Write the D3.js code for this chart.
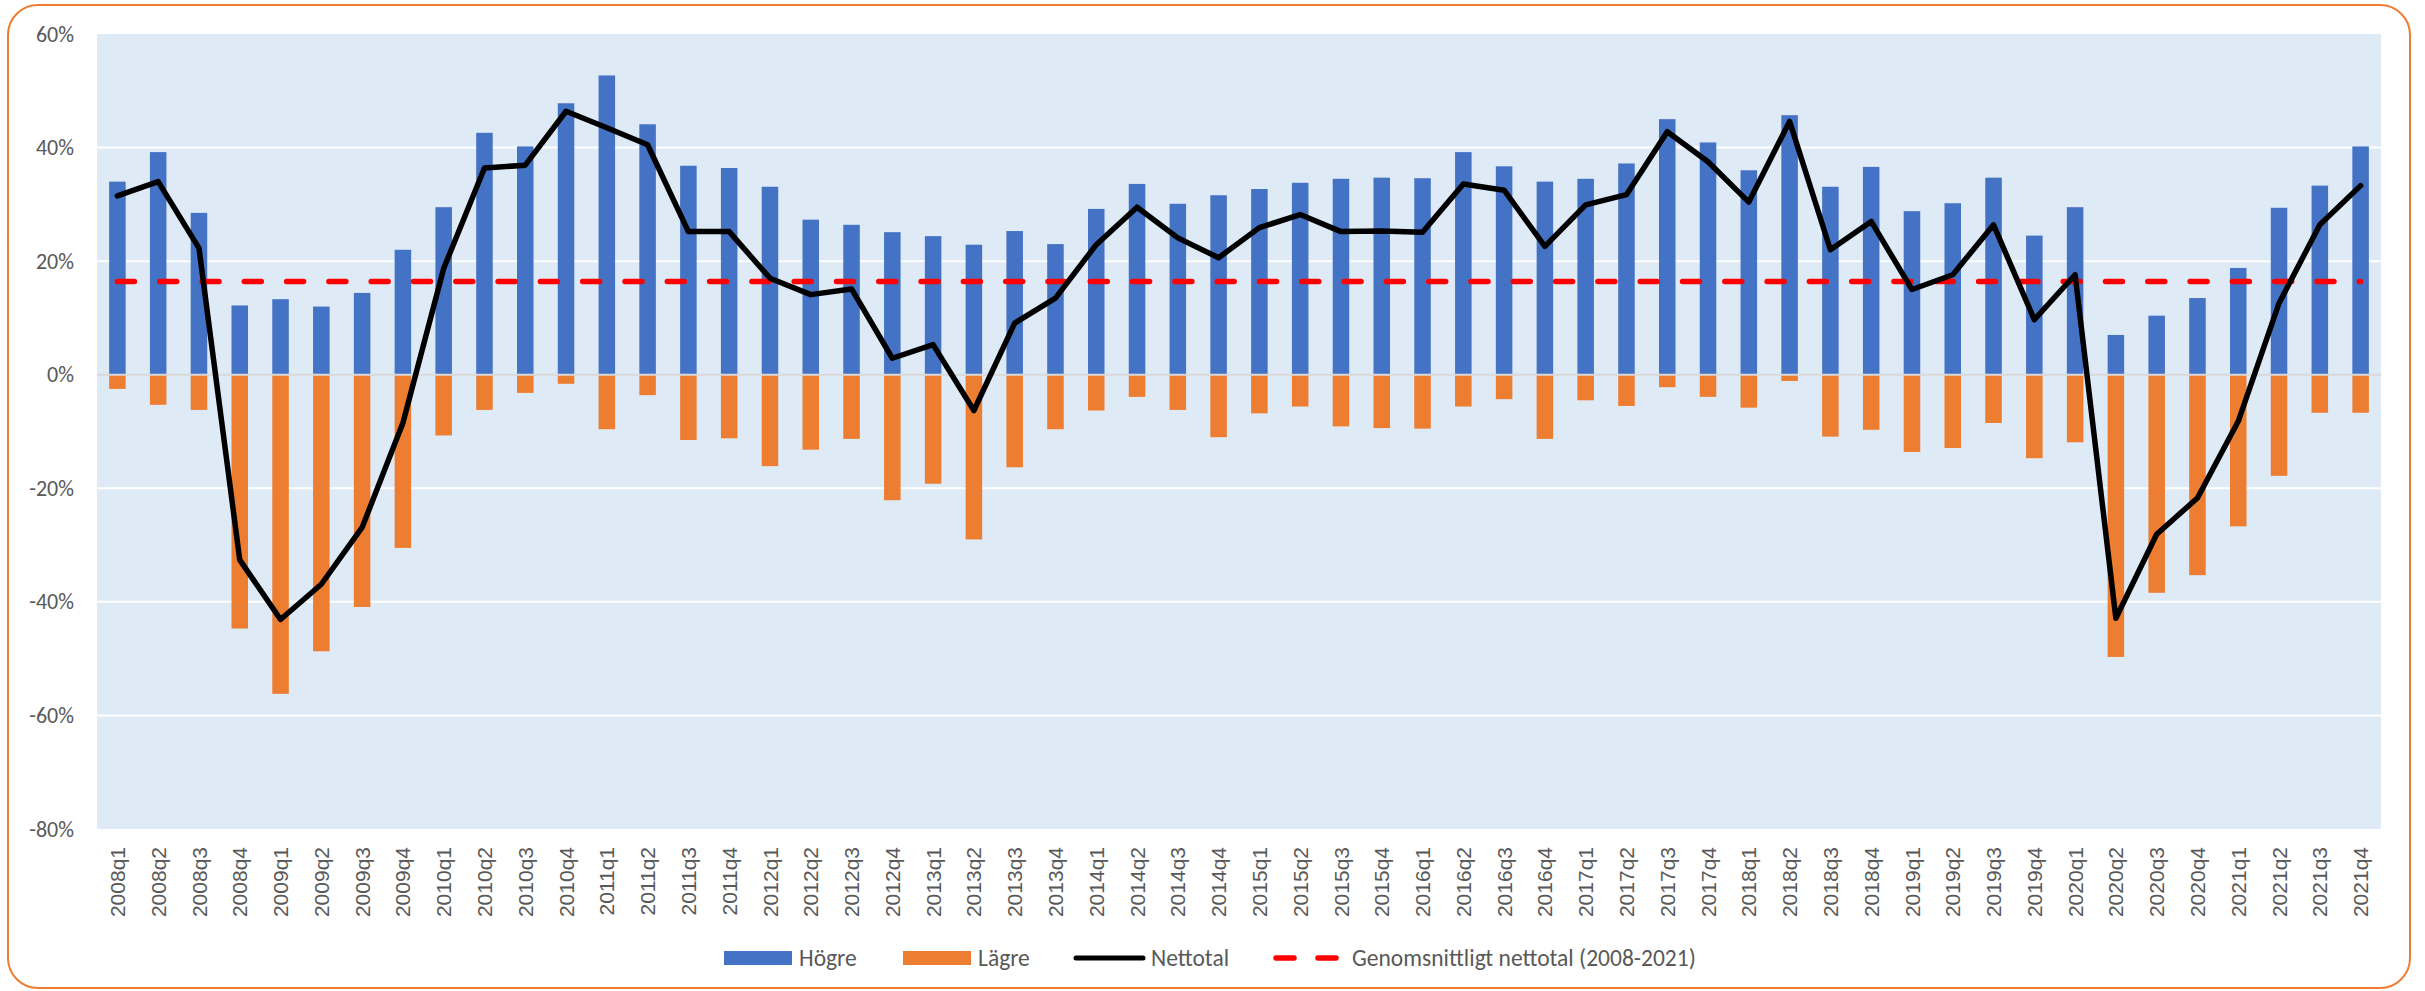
<!DOCTYPE html>
<html>
<head>
<meta charset="utf-8">
<script src="https://cdn.jsdelivr.net/npm/d3@7"></script>
<style>
  html, body { margin: 0; padding: 0; background: #ffffff; }
  svg { display: block; }
</style>
</head>
<body>
<svg id="chart" width="2425" height="991"></svg>
<script>
// ---------------- DATA ----------------
const categories = [
  "2008q1","2008q2","2008q3","2008q4","2009q1","2009q2","2009q3","2009q4",
  "2010q1","2010q2","2010q3","2010q4","2011q1","2011q2","2011q3","2011q4",
  "2012q1","2012q2","2012q3","2012q4","2013q1","2013q2","2013q3","2013q4",
  "2014q1","2014q2","2014q3","2014q4","2015q1","2015q2","2015q3","2015q4",
  "2016q1","2016q2","2016q3","2016q4","2017q1","2017q2","2017q3","2017q4",
  "2018q1","2018q2","2018q3","2018q4","2019q1","2019q2","2019q3","2019q4",
  "2020q1","2020q2","2020q3","2020q4","2021q1","2021q2","2021q3","2021q4"
];
const hogre = [
  34.0, 39.2, 28.5, 12.2, 13.3, 12.0, 14.4, 22.0,
  29.5, 42.6, 40.2, 47.8, 52.7, 44.1, 36.8, 36.4,
  33.1, 27.3, 26.4, 25.1, 24.4, 22.9, 25.3, 23.0,
  29.2, 33.6, 30.1, 31.6, 32.7, 33.8, 34.5, 34.7,
  34.6, 39.2, 36.7, 34.0, 34.5, 37.2, 45.0, 40.9,
  36.0, 45.7, 33.1, 36.6, 28.8, 30.2, 34.7, 24.5,
  29.5, 7.0, 10.4, 13.5, 18.8, 29.4, 33.3, 40.2
];
const lagre = [
  -2.5, -5.3, -6.2, -44.7, -56.2, -48.7, -40.9, -30.5,
  -10.7, -6.2, -3.2, -1.6, -9.6, -3.6, -11.5, -11.2,
  -16.1, -13.2, -11.3, -22.1, -19.2, -29.0, -16.3, -9.6,
  -6.3, -3.9, -6.2, -11.0, -6.8, -5.6, -9.1, -9.4,
  -9.5, -5.6, -4.3, -11.3, -4.5, -5.5, -2.2, -3.9,
  -5.8, -1.1, -10.9, -9.7, -13.6, -12.9, -8.5, -14.7,
  -11.9, -49.7, -38.4, -35.3, -26.7, -17.8, -6.7, -6.7
];
const nettotal = [
  31.5, 34.0, 22.3, -32.6, -43.1, -36.9, -26.9, -8.5,
  18.7, 36.4, 36.9, 46.4, 43.5, 40.5, 25.2, 25.2,
  17.0, 14.1, 15.1, 2.9, 5.3, -6.3, 9.1, 13.5,
  22.9, 29.5, 24.1, 20.6, 25.9, 28.2, 25.2, 25.3,
  25.1, 33.6, 32.5, 22.6, 29.9, 31.7, 42.8, 37.5,
  30.4, 44.6, 22.0, 27.0, 15.0, 17.6, 26.4, 9.7,
  17.6, -42.9, -28.1, -21.7, -8.2, 12.6, 26.4, 33.3
];
const genomsnitt = 16.4;
const yTicks = [60, 40, 20, 0, -20, -40, -60, -80];
const seriesNames = ["Högre", "Lägre", "Nettotal", "Genomsnittligt nettotal (2008-2021)"];

// ---------------- LAYOUT ----------------
const svg = d3.select("#chart");
const plotLeft = 97, plotRight = 2381, plotTop = 34, plotBottom = 829;
const colors = { hogre: "#4472C4", lagre: "#ED7D31", net: "#000000", avg: "#FF0000",
                 bg: "#DEEAF6", grid: "#FFFFFF", zero: "#D9D9D9", text: "#595959" };
const labelFont = "'Carlito', 'Liberation Sans Narrow', 'Arial Narrow', 'Liberation Sans', sans-serif";

// outer rounded border
svg.append("rect")
  .attr("x", 8).attr("y", 5).attr("width", 2402).attr("height", 983)
  .attr("rx", 30).attr("ry", 30)
  .attr("fill", "#ffffff").attr("stroke", colors.lagre).attr("stroke-width", 2);

const x = d3.scaleBand().domain(categories).range([plotLeft, plotRight])
  .paddingInner(0.595).paddingOuter(0.2975);
const y = d3.scaleLinear().domain([-80, 60]).range([plotBottom, plotTop]);
const cx = c => x(c) + x.bandwidth() / 2;

// plot background
svg.append("rect")
  .attr("x", plotLeft).attr("y", plotTop)
  .attr("width", plotRight - plotLeft).attr("height", plotBottom - plotTop)
  .attr("fill", colors.bg);

// gridlines
svg.append("g").selectAll("line")
  .data(yTicks.filter(t => t !== 60 && t !== -80 && t !== 0))
  .join("line")
  .attr("x1", plotLeft).attr("x2", plotRight)
  .attr("y1", d => y(d)).attr("y2", d => y(d))
  .attr("stroke", colors.grid).attr("stroke-width", 2);

// bars
svg.append("g").selectAll("rect")
  .data(categories.map((c, i) => ({ c, v: hogre[i] })))
  .join("rect")
  .attr("x", d => x(d.c)).attr("width", x.bandwidth())
  .attr("y", d => y(d.v)).attr("height", d => y(0) - y(d.v))
  .attr("fill", colors.hogre);

svg.append("g").selectAll("rect")
  .data(categories.map((c, i) => ({ c, v: lagre[i] })))
  .join("rect")
  .attr("x", d => x(d.c)).attr("width", x.bandwidth())
  .attr("y", y(0)).attr("height", d => y(d.v) - y(0))
  .attr("fill", colors.lagre);

// zero line
svg.append("line")
  .attr("x1", plotLeft).attr("x2", plotRight)
  .attr("y1", y(0)).attr("y2", y(0))
  .attr("stroke", colors.zero).attr("stroke-width", 2);

// average dashed line
svg.append("line")
  .attr("x1", cx(categories[0])).attr("x2", cx(categories[categories.length - 1]))
  .attr("y1", y(genomsnitt)).attr("y2", y(genomsnitt))
  .attr("stroke", colors.avg).attr("stroke-width", 5.5)
  .attr("stroke-linecap", "round")
  .attr("stroke-dasharray", "17,25.3");

// net line
const line = d3.line().x(d => cx(d.c)).y(d => y(d.v));
svg.append("path")
  .datum(categories.map((c, i) => ({ c, v: nettotal[i] })))
  .attr("d", line)
  .attr("fill", "none").attr("stroke", colors.net)
  .attr("stroke-width", 5.5).attr("stroke-linejoin", "round").attr("stroke-linecap", "round");

// y axis
const yAxis = svg.append("g")
  .attr("transform", `translate(${plotLeft},0)`)
  .call(d3.axisLeft(y).tickValues(yTicks).tickSize(0).tickPadding(23)
        .tickFormat(d => d + "%"));
yAxis.select(".domain").remove();
yAxis.selectAll("text")
  .attr("fill", colors.text)
  .style("font-family", labelFont)
  .style("font-size", "22px");

// x axis
const xAxis = svg.append("g")
  .attr("transform", `translate(0,${plotBottom})`)
  .call(d3.axisBottom(x).tickSize(0));
xAxis.select(".domain").remove();
xAxis.selectAll("text")
  .attr("fill", colors.text)
  .style("font-family", "'Liberation Sans', Arial, sans-serif")
  .style("font-size", "21px")
  .attr("text-anchor", "end")
  .attr("transform", "rotate(-90)")
  .attr("x", -18).attr("y", 0).attr("dy", "0.36em");

// legend
const legend = svg.append("g").style("font-family", labelFont).style("font-size", "23.5px");
const legY = 958;
// Högre
legend.append("rect").attr("x", 724).attr("y", legY - 7).attr("width", 68).attr("height", 14).attr("fill", colors.hogre);
legend.append("text").attr("x", 799).attr("y", legY).attr("dy", "0.35em").attr("fill", colors.text).text(seriesNames[0]);
// Lägre
legend.append("rect").attr("x", 903).attr("y", legY - 7).attr("width", 68).attr("height", 14).attr("fill", colors.lagre);
legend.append("text").attr("x", 978).attr("y", legY).attr("dy", "0.35em").attr("fill", colors.text).text(seriesNames[1]);
// Nettotal
legend.append("line").attr("x1", 1076).attr("x2", 1143).attr("y1", legY).attr("y2", legY)
  .attr("stroke", colors.net).attr("stroke-width", 5).attr("stroke-linecap", "round");
legend.append("text").attr("x", 1151).attr("y", legY).attr("dy", "0.35em").attr("fill", colors.text).text(seriesNames[2]);
// Average
legend.append("line").attr("x1", 1276).attr("x2", 1338).attr("y1", legY).attr("y2", legY)
  .attr("stroke", colors.avg).attr("stroke-width", 5.5).attr("stroke-linecap", "round")
  .attr("stroke-dasharray", "18,24");
legend.append("text").attr("x", 1352).attr("y", legY).attr("dy", "0.35em").attr("fill", colors.text).text(seriesNames[3]);
</script>
</body>
</html>
